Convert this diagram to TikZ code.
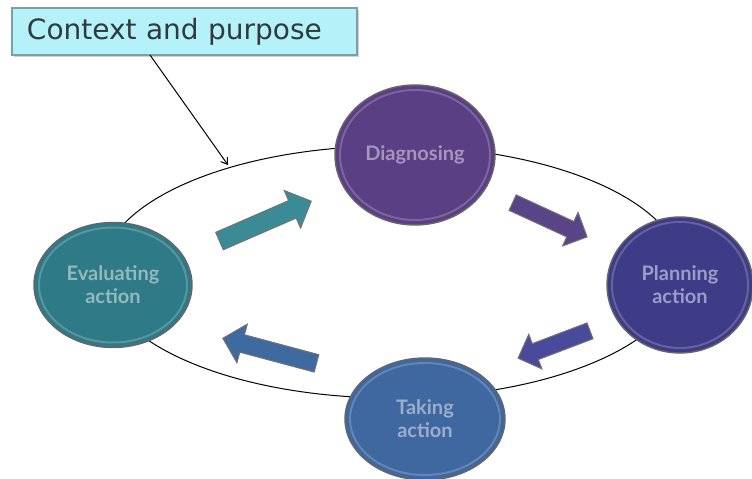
\documentclass[tikz,border=0pt]{standalone}
\usepackage{fontspec}
\setmainfont{Lato}
\newfontfamily\ctxfont{DejaVu Sans}
\usetikzlibrary{shapes.geometric,shapes.arrows,arrows.meta,shadows}
\definecolor{ctxfill}{HTML}{B4F1F9}
\definecolor{ctxdraw}{HTML}{7F9FA4}
\definecolor{ctxtext}{HTML}{2F3A3C}
\definecolor{cdiag}{HTML}{5B3F85}
\definecolor{tdiag}{HTML}{A496BD}
\definecolor{cplan}{HTML}{3E3C86}
\definecolor{tplan}{HTML}{9C9CCB}
\definecolor{ctake}{HTML}{3F67A0}
\definecolor{ttake}{HTML}{9DAECA}
\definecolor{ceval}{HTML}{2E7B87}
\definecolor{teval}{HTML}{93B9BD}
\definecolor{aeval}{HTML}{3A8B95}
\definecolor{adiag}{HTML}{5A4488}
\definecolor{aplan}{HTML}{4A4A9C}
\definecolor{atake}{HTML}{3E6AA0}
\tikzset{
  phase/.style={ellipse, draw=black!60, line width=1.4pt, inner sep=0pt, align=center,
    font=\fontsize{20}{23}\selectfont\bfseries},
  rim/.style={ellipse, draw=white, draw opacity=0.2, line width=2pt, inner sep=0pt},
  blockarrow/.style={single arrow, draw=black!55, line width=1pt, inner xsep=0pt, inner ysep=9pt,
    minimum width=0pt, single arrow head extend=11pt, single arrow head indent=0pt},
}
\begin{document}
\begin{tikzpicture}[x=1pt,y=-1pt]
\useasboundingbox (0,0) rectangle (752,479);
% big cycle ellipse
\node[ellipse, draw=black, line width=1pt, minimum width=580pt, minimum height=252pt] (cyc) at (392,272) {};
% context box
\node[draw=ctxdraw, fill=ctxfill, line width=1.5pt, minimum width=345pt, minimum height=47pt,
  text=ctxtext, font=\ctxfont\fontsize{28}{32}\selectfont, text width=331pt, align=left, inner xsep=0pt,
  drop shadow={shadow xshift=1.5pt, shadow yshift=-1.5pt, fill=black!35}] (ctx) at (184.5,31.5) {\hspace*{8pt}Context and purpose};
\coordinate (ctxa) at (150,55);
\coordinate (ctxb) at (228,165);
\draw[line width=1pt, -{Straight Barb[length=6pt,width=8pt]}] (ctxa) -- (ctxb);
% phases
\node[phase, fill=cdiag, text=tdiag, minimum width=160pt, minimum height=140pt] (diag) at (415,155) {Diagnosing};
\node[phase, fill=cplan, text=tplan, minimum width=146pt, minimum height=136pt] (plan) at (680,285) {Planning\\action};
\node[phase, fill=ctake, text=ttake, minimum width=160pt, minimum height=122pt] (take) at (425,419) {Taking\\action};
\node[phase, fill=ceval, text=teval, minimum width=158pt, minimum height=125pt] (eval) at (113,285) {Evaluating\\action};
\node[rim, minimum width=150pt, minimum height=130pt] (diagrim) at (diag) {};
\node[rim, minimum width=136pt, minimum height=126pt] (planrim) at (plan) {};
\node[rim, minimum width=150pt, minimum height=112pt] (takerim) at (take) {};
\node[rim, minimum width=148pt, minimum height=115pt] (evalrim) at (eval) {};
% block arrows
\node[blockarrow, fill=aeval, minimum height=100pt, rotate=23.5] (a1) at (261,223) {};
\node[blockarrow, fill=adiag, minimum height=82pt, inner ysep=8pt, single arrow head extend=10pt, rotate=-24.7] (a2) at (546,218) {};
\node[blockarrow, fill=aplan, minimum height=77pt, inner ysep=8pt, single arrow head extend=10pt, rotate=200.8] (a3) at (558,343) {};
\node[blockarrow, fill=atake, minimum height=97pt, inner ysep=8.5pt, rotate=165] (a4) at (274,352) {};
\end{tikzpicture}
\end{document}
